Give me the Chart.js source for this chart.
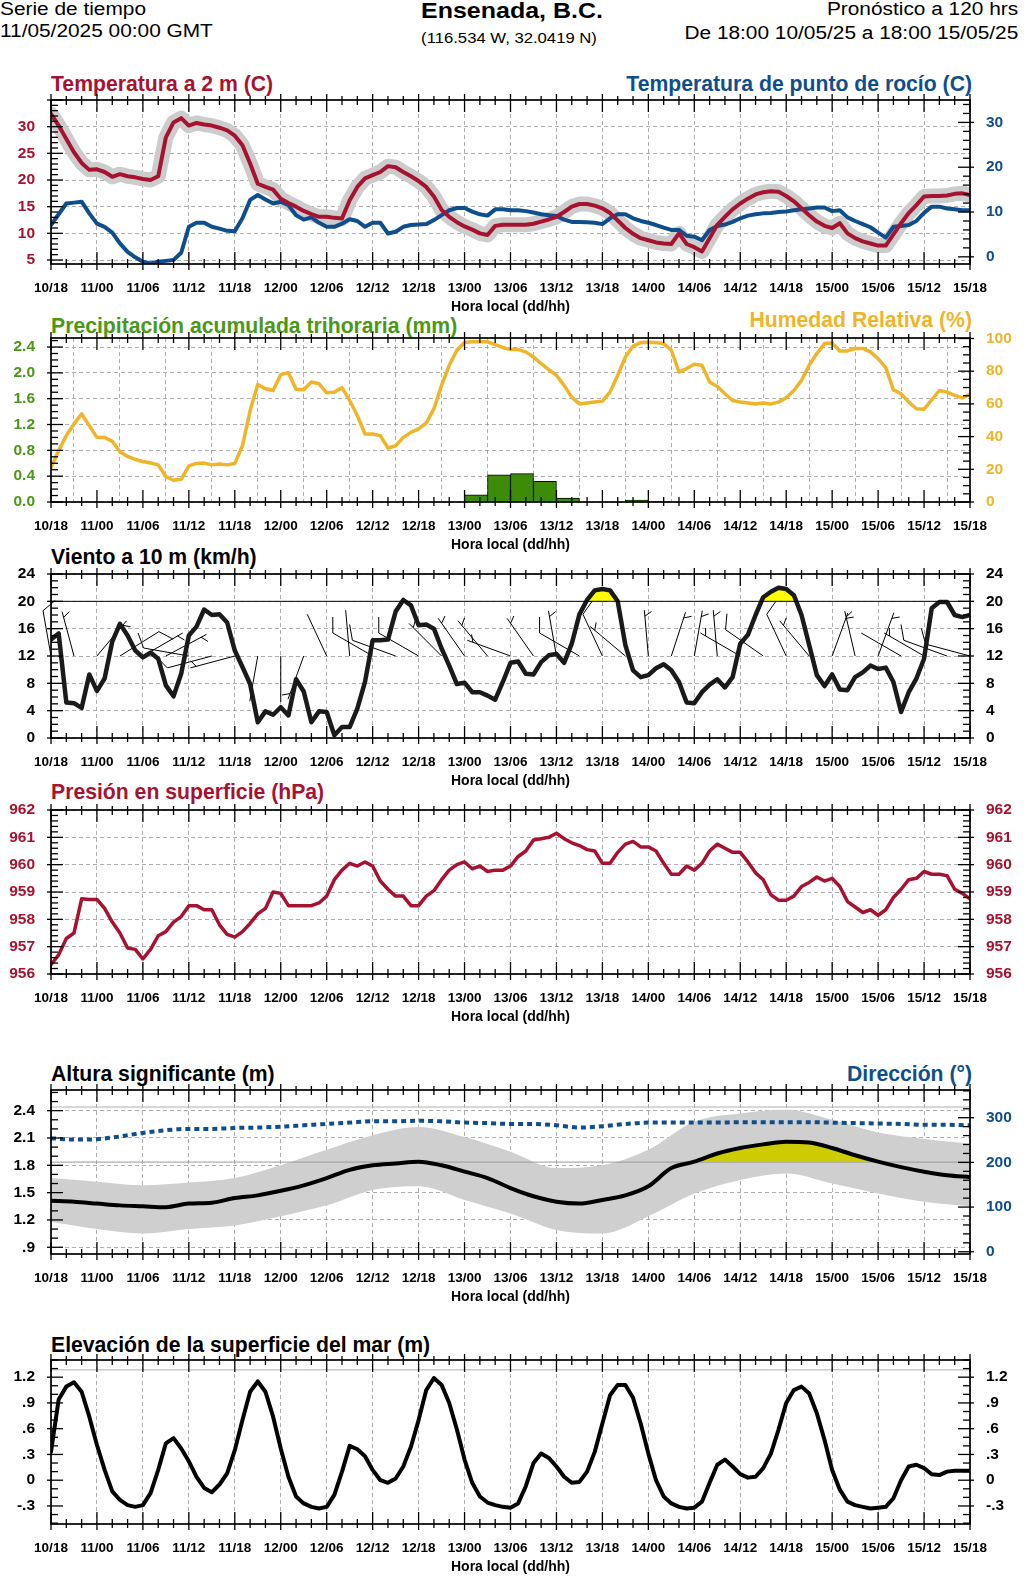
<!DOCTYPE html>
<html>
<head>
<meta charset="utf-8">
<script src="https://cdn.jsdelivr.net/npm/chart.js@4.4.1/dist/chart.umd.min.js"></script>
<style>
body{margin:0;background:#fff;width:1024px;height:1576px;position:relative;overflow:hidden;font-family:"Liberation Sans",Arial,Helvetica,sans-serif}
.t{position:absolute;white-space:nowrap;line-height:1}
.pt{position:absolute;white-space:nowrap;line-height:1;font-size:21.2px;font-weight:bold}
</style>
</head>
<body>
<div class="t" style="left:0;top:0.2px;font-size:18px;transform:scaleX(1.158);transform-origin:0 0">Serie de tiempo</div>
<div class="t" style="left:0;top:22.2px;font-size:18px;transform:scaleX(1.158);transform-origin:0 0">11/05/2025 00:00 GMT</div>
<div class="t" style="left:512px;top:0px;font-size:22px;font-weight:bold;transform:translateX(-50%) scaleX(1.136)">Ensenada, B.C.</div>
<div class="t" style="left:509px;top:30.5px;font-size:14.8px;transform:translateX(-50%) scaleX(1.127)">(116.534 W, 32.0419 N)</div>
<div class="t" style="right:6px;top:0.2px;font-size:18px;transform:scaleX(1.158);transform-origin:100% 0">Pronóstico a 120 hrs</div>
<div class="t" style="right:6px;top:24.2px;font-size:18px;transform:scaleX(1.158);transform-origin:100% 0">De 18:00 10/05/25 a 18:00 15/05/25</div>

<div class="pt" style="left:51px;top:73.4px;color:#a6122f">Temperatura a 2 m (C)</div>
<div class="pt" style="right:52px;top:73.4px;color:#0f4e8c">Temperatura de punto de rocío (C)</div>
<div class="pt" style="left:51px;top:315px;color:#4a9815">Precipitación acumulada trihoraria (mm)</div>
<div class="pt" style="right:52px;top:309px;color:#f0b429">Humedad Relativa (%)</div>
<div class="pt" style="left:51px;top:545.5px;color:#000">Viento a 10 m (km/h)</div>
<div class="pt" style="left:51px;top:780.5px;color:#a6122f">Presión en superficie (hPa)</div>
<div class="pt" style="left:51px;top:1063.4px;color:#000">Altura significante (m)</div>
<div class="pt" style="right:52px;top:1063.4px;color:#0f4e8c">Dirección (°)</div>
<div class="pt" style="left:51px;top:1334px;color:#000">Elevación de la superficie del mar (m)</div>

<script>
// ---- datos ----
const tickLabels = ['10/18','11/00','11/06','11/12','11/18','12/00','12/06','12/12','12/18','13/00','13/06',
  '13/12','13/18','14/00','14/06','14/12','14/18','15/00','15/06','15/12','15/18'];

// temperatura a 2 m (C), horaria
const tempC = [32.4,30.2,27.7,25.2,23.2,21.9,22.0,21.5,20.6,21.1,20.7,20.5,20.2,20.0,20.7,28.0,30.8,31.6,30.2,30.7,
  30.4,30.2,29.8,29.3,28.3,26.5,23.1,19.3,18.7,18.2,16.5,15.7,15.0,14.2,13.6,13.1,13.1,12.9,12.8,16.2,
  18.7,20.3,20.9,21.5,22.6,22.4,21.5,20.7,19.8,18.7,16.9,14.4,13.1,12.1,11.3,10.7,10.0,9.7,11.4,11.6,
  11.6,11.6,11.6,11.8,12.2,12.6,13.1,14.0,15.0,15.5,15.5,15.2,14.7,13.8,12.4,11.0,9.9,9.1,8.7,8.3,
  8.1,8.0,10.0,8.0,7.4,6.6,9.1,11.6,13.1,14.5,15.6,16.5,17.3,17.7,17.9,17.8,17.0,16.0,14.7,13.4,
  12.2,11.4,11.0,11.9,10.0,9.1,8.5,8.1,7.7,7.7,9.8,11.9,13.8,15.3,16.9,17.0,17.0,17.1,17.4,17.5,17.2];
// punto de rocio (C), eje derecho
const dewC = [7.1,9.5,11.9,12.1,12.3,9.7,7.4,6.7,5.4,3.0,1.1,-0.1,-1.1,-1.5,-1.1,-0.9,-0.7,0.9,6.7,7.6,
  7.6,6.7,6.3,5.8,5.7,8.6,12.7,13.8,12.8,11.9,12.3,11.5,9.3,8.3,8.8,7.6,6.7,6.7,7.4,8.4,
  8.0,6.7,7.6,7.6,5.2,5.6,6.7,7.1,7.2,7.3,8.2,9.3,10.4,10.9,10.9,10.1,9.5,9.2,10.6,10.6,
  10.4,10.4,10.2,9.9,9.5,9.3,9.1,8.3,7.8,7.8,7.7,7.6,7.3,8.6,9.5,9.5,8.6,8.0,7.6,7.1,
  6.5,6.0,6.0,4.7,4.5,3.7,6.0,6.9,7.2,7.8,8.6,9.2,9.5,9.7,9.8,10.0,10.1,10.4,10.6,10.8,
  11.0,11.0,10.2,10.4,8.8,8.0,7.3,6.6,5.4,4.3,6.7,6.9,7.1,8.0,9.8,11.2,11.2,10.8,10.6,10.4,10.4];
// humedad relativa (%)
const rhPct = [21.1,31.4,40.6,47.7,53.9,46.7,39.5,39.5,37.1,30.7,27.9,26.0,24.8,23.8,22.7,15.6,13.3,13.9,22.1,23.6,
  23.8,22.7,23.2,22.7,23.6,34.4,55.9,71.9,69.3,68.2,77.9,79.1,68.9,68.6,73.4,72.3,66.8,67.2,69.9,62.1,
  52.9,41.6,41.6,40.6,33.0,34.4,39.5,42.6,44.7,48.4,57.0,71.3,83.6,92.8,97.5,98.0,98.0,98.0,96.3,94.5,
  93.2,93.2,91.8,88.7,84.6,80.9,77.5,71.3,64.1,60.0,60.5,61.1,61.7,67.2,77.5,88.7,95.3,97.5,97.7,97.5,
  96.9,92.8,79.5,81.6,84.2,83.6,73.4,70.7,66.2,62.1,61.1,60.5,60.0,60.5,60.0,61.1,63.7,68.2,74.4,83.6,
  90.8,96.9,97.3,92.4,92.4,93.9,93.9,91.8,87.7,82.2,68.6,66.2,61.1,57.0,56.8,62.5,68.2,67.2,65.2,63.7,65.8];
// precipitacion trihoraria (mm), 40 intervalos de 3 h
const precipMm = [0,0,0,0,0,0,0,0,0,0, 0,0,0,0,0,0,0,0,0.11,0.42,
  0.44,0.32,0.06,0,0,0.03,0.005,0,0,0, 0,0,0,0,0,0,0,0,0,0];
// viento a 10 m (km/h)
const windKmh = [14.4,15.3,5.2,5.1,4.4,9.3,6.9,8.7,14.1,16.7,15.0,12.8,11.8,12.5,11.6,7.7,6.1,9.4,15.0,16.3,
  18.8,18.0,18.1,16.9,12.8,10.4,7.9,2.3,3.9,3.4,4.5,3.3,8.6,6.8,2.3,3.9,3.8,0.4,1.6,1.6,
  4.3,8.2,14.3,14.3,14.4,18.5,20.2,19.4,16.5,16.6,16.0,13.1,10.6,7.9,8.1,6.7,6.7,6.2,5.6,8.2,
  11.0,11.2,9.4,9.3,11.1,12.1,12.3,11.0,13.8,18.1,20.2,21.6,21.8,21.6,20.0,13.6,9.9,8.9,9.2,10.2,
  10.8,9.9,8.2,5.2,5.1,6.7,7.8,8.6,7.4,8.9,13.8,15.1,18.0,20.6,21.4,22.0,21.8,20.9,18.0,13.6,
  9.2,7.6,9.3,7.1,7.0,8.9,9.6,10.6,10.1,10.3,8.2,3.8,6.7,8.7,11.6,19.0,19.9,19.9,18.0,17.7,18.0];
// direccion del viento (grados de donde sopla), cada 3 h
const windDir = [350,345,40,58,60,62,280,255,255,190,180,200,335,355,300,290,300,315,325,320,
  290,325,350,300,335,310,355,18,10,355,300,305,335,320,20,347,20,300,300,290,285];
// presion en superficie (hPa)
const presHpa = [956.34,956.7,957.3,957.5,958.75,958.73,958.73,958.4,957.9,957.5,956.95,956.9,956.55,956.9,957.4,957.55,957.9,958.1,958.5,958.5,
  958.35,958.35,957.8,957.45,957.35,957.55,957.85,958.2,958.4,959.0,958.95,958.5,958.5,958.5,958.5,958.6,958.85,959.45,959.8,960.05,
  959.95,960.1,959.95,959.4,959.1,958.85,958.85,958.5,958.5,958.85,959.05,959.45,959.8,960.0,960.1,959.85,959.95,959.75,959.8,959.8,
  959.95,960.3,960.5,960.9,960.95,961.0,961.15,960.95,960.8,960.7,960.55,960.5,960.05,960.05,960.45,960.75,960.85,960.65,960.65,960.5,
  960.05,959.65,959.65,959.95,959.8,960.05,960.5,960.75,960.6,960.45,960.45,960.1,959.7,959.45,958.9,958.7,958.7,958.85,959.2,959.35,
  959.55,959.4,959.5,959.2,958.65,958.45,958.25,958.35,958.15,958.35,958.8,959.1,959.45,959.5,959.75,959.65,959.65,959.6,959.1,958.95,958.75];
// altura significante de ola (m) y direccion (grados), cada 3 h
const waveHs = [1.41,1.40,1.38,1.36,1.35,1.34,1.38,1.39,1.44,1.47,1.52,1.58,1.66,1.75,1.80,1.82,1.84,1.80,1.73,1.66,
  1.55,1.46,1.40,1.38,1.42,1.47,1.57,1.77,1.84,1.93,1.99,2.03,2.06,2.05,1.99,1.91,1.84,1.78,1.73,1.69,1.67];
const waveDir = [254,251,252,258,266,272,275,275,277,278,280,283,286,289,292,292,293,292,289,288,
  286,286,283,278,281,286,289,289,289,289,290,290,290,290,289,288,287,286,284,284,283];
// banda del ensamble de altura (m), cada 6 h
const waveHi = [1.66,1.62,1.58,1.61,1.66,1.80,1.97,2.13,2.22,2.11,1.95,1.77,1.80,1.97,2.28,2.37,2.41,2.30,2.16,2.09,2.04];
const waveLo = [1.18,1.10,1.05,1.10,1.14,1.24,1.36,1.53,1.57,1.42,1.27,1.09,1.05,1.24,1.49,1.64,1.71,1.60,1.49,1.40,1.35];
// elevacion del mar (m), horaria
const seaM = [0.33,0.94,1.09,1.14,1.03,0.74,0.41,0.12,-0.13,-0.23,-0.29,-0.31,-0.29,-0.15,0.12,0.43,0.49,0.37,0.22,0.04,
  -0.09,-0.14,-0.05,0.08,0.35,0.70,1.03,1.15,1.03,0.74,0.37,0.04,-0.19,-0.27,-0.31,-0.33,-0.31,-0.17,0.10,0.40,
  0.36,0.28,0.12,0.00,-0.03,0.02,0.16,0.39,0.70,1.05,1.19,1.11,0.90,0.59,0.24,-0.03,-0.19,-0.26,-0.29,-0.31,
  -0.32,-0.27,-0.07,0.20,0.31,0.26,0.16,0.04,-0.03,-0.02,0.10,0.33,0.66,0.99,1.11,1.11,0.96,0.66,0.31,0.00,
  -0.19,-0.27,-0.31,-0.33,-0.32,-0.25,-0.03,0.18,0.24,0.16,0.07,0.03,0.04,0.14,0.31,0.59,0.90,1.05,1.09,1.01,
  0.78,0.47,0.12,-0.11,-0.25,-0.29,-0.31,-0.33,-0.32,-0.31,-0.21,0.00,0.16,0.18,0.14,0.07,0.06,0.10,0.11,0.11,0.11];

// umbrales
const WIND_LIMIT = 20;
const BARB_LEVEL = 12;
const WAVE_LIMIT = 1.835;
const WAVE_TOP = 2.44;
const SEA_TOP = 1.285;

// ---- layout ----
const FONT = '"Liberation Sans", Arial, Helvetica, sans-serif';
const RED = '#a6122f', BLUE = '#0f4e8c', GREEN = '#4a9815', BAR = '#3c8c0a', ORANGE = '#f0b429';
const FRAME_L = 51, FRAME_R = 970, PLOT_H = 164, PAD_T = 6, XAX_H = 52;
Chart.defaults.font.family = FONT;

const hours1 = [], hours3 = [], hours6 = [], barX = [];
for (let h = 0; h <= 120; h++) {
  hours1.push(h);
  if (h % 3 === 0) hours3.push(h);
  if (h % 6 === 0) hours6.push(h);
}
for (let i = 0; i < precipMm.length; i++) barX.push(i * 3 + 1.5);
const tickHours = tickLabels.map((_, i) => i * 6);

function xy(xs, ys) { return xs.map((x, i) => ({ x: x, y: ys[i] })); }
function flat(v) { return [{ x: 0, y: v }, { x: 120, y: v }]; }
function dotFmt(v) {
  if (Math.abs(v) < 1e-9) return '0';
  return v.toFixed(1).replace(/^(-?)0\./, '$1.');
}

function xAxis() {
  return {
    type: 'linear', min: 0, max: 120, offset: false,
    afterBuildTicks: s => { s.ticks = tickHours.map(v => ({ value: v })); },
    afterFit: s => { s.height = XAX_H; },
    ticks: { autoSkip: false, maxRotation: 0, padding: 16, color: '#000',
      font: { size: 13.5, weight: 'bold' },
      callback: (v, i) => tickLabels[i] },
    grid: { color: '#9a9a9a', lineWidth: 0.8, drawTicks: false },
    border: { display: false, dash: [4, 3] },
    title: { display: true, text: 'Hora local (dd/hh)', color: '#000',
      font: { size: 14, weight: 'bold' }, padding: { top: 0, bottom: 0 } }
  };
}

function yAxis(pos, min, max, ticks, fmt, color, showGrid) {
  return {
    type: 'linear', position: pos, min: min, max: max,
    afterBuildTicks: s => { s.ticks = ticks.map(v => ({ value: v })); },
    afterFit: s => {
      s.width = pos === 'left' ? FRAME_L : 1024 - FRAME_R;
      s.paddingTop = 0; s.paddingBottom = 0;
    },
    ticks: { padding: 16, color: color, font: { size: 15.5, weight: 'bold' }, callback: v => fmt(v) },
    grid: { display: showGrid, color: '#9a9a9a', lineWidth: 0.8, drawTicks: false },
    border: { display: false, dash: [4, 3] }
  };
}

// marco con marcas hacia adentro (estilo NCL)
const framePlugin = {
  id: 'frame',
  afterDatasetsDraw(chart, args, opts) {
    const { ctx, chartArea: a, scales } = chart;
    ctx.save();
    ctx.strokeStyle = '#000';
    function seg(x1, y1, x2, y2) { ctx.beginPath(); ctx.moveTo(x1, y1); ctx.lineTo(x2, y2); ctx.stroke(); }
    ctx.lineWidth = 1.3;
    for (let h = 0; h <= 120; h += 2) {
      const x = scales.x.getPixelForValue(h);
      const major = h % 6 === 0;
      const inn = major ? 12 : 5, out = major ? 6 : 4;
      seg(x, a.bottom + out, x, a.bottom - inn);
      seg(x, a.top - out, x, a.top + inn);
    }
    function side(sc, o, x0, dir) {
      if (!o) return;
      const k0 = Math.ceil(sc.min / o.minor - 1e-6);
      for (let k = k0; k * o.minor <= sc.max + 1e-6; k++) {
        const v = k * o.minor;
        const r = v / o.major;
        const major = Math.abs(r - Math.round(r)) < 1e-6;
        const y = sc.getPixelForValue(v);
        seg(x0 - dir * (major ? 4 : 0), y, x0 + dir * (major ? 12 : 7), y);
      }
    }
    side(scales.y, opts.left, a.left, 1);
    side(scales.y2 || scales.y, opts.right || opts.left, a.right, -1);
    ctx.lineWidth = 1.7;
    ctx.strokeRect(a.left, a.top, a.right - a.left, a.bottom - a.top);
    ctx.restore();
  }
};

// barbas de viento sobre el nivel BARB_LEVEL
const barbPlugin = {
  id: 'barbs',
  beforeDatasetsDraw(chart) {
    const { ctx, scales: { x, y } } = chart;
    const STAFF = 46, FULL = 16, GAP = 6;
    ctx.save();
    ctx.strokeStyle = '#000';
    ctx.lineWidth = 1;
    hours3.forEach((h, i) => {
      const bx = x.getPixelForValue(h), by = y.getPixelForValue(BARB_LEVEL);
      const a = windDir[i] * Math.PI / 180;
      const ux = Math.sin(a), uy = -Math.cos(a);
      const fa = a + Math.PI / 3;
      const fx = Math.sin(fa), fy = -Math.cos(fa);
      ctx.beginPath();
      ctx.moveTo(bx, by);
      ctx.lineTo(bx + ux * STAFF, by + uy * STAFF);
      let kt = Math.round(windKmh[h] / 1.852 / 5) * 5;
      let d = STAFF;
      if (kt === 5) d -= GAP;
      while (kt >= 5) {
        const len = kt >= 10 ? FULL : FULL / 2;
        const px = bx + ux * d, py = by + uy * d;
        ctx.moveTo(px, py);
        ctx.lineTo(px + fx * len, py + fy * len);
        kt -= kt >= 10 ? 10 : 5;
        d -= GAP;
      }
      ctx.stroke();
    });
    ctx.restore();
  }
};

function makePanel(frameTop, datasets, scales, frameOpts, extra) {
  const cv = document.createElement('canvas');
  const H = PAD_T + PLOT_H + XAX_H;
  cv.width = 1024; cv.height = H;
  cv.style.cssText = 'position:absolute;left:0;top:' + (frameTop - PAD_T) + 'px;width:1024px;height:' + H + 'px';
  document.body.appendChild(cv);
  return new Chart(cv, {
    type: 'line',
    data: { datasets: datasets },
    options: {
      responsive: false, animation: false, events: [],
      layout: { padding: { top: PAD_T, left: 0, right: 0, bottom: 0 } },
      elements: { point: { radius: 0 }, line: { tension: 0, borderJoinStyle: 'round', borderCapStyle: 'round' } },
      plugins: { legend: { display: false }, tooltip: { enabled: false }, frame: frameOpts },
      scales: Object.assign({ x: xAxis() }, scales)
    },
    plugins: [framePlugin].concat(extra || [])
  });
}

// 1. temperatura
makePanel(100, [
  { data: xy(hours1, tempC), borderColor: '#cccccc', borderWidth: 15, yAxisID: 'y', order: 3 },
  { data: xy(hours1, dewC), borderColor: BLUE, borderWidth: 4, yAxisID: 'y2', order: 2 },
  { data: xy(hours1, tempC), borderColor: RED, borderWidth: 4, yAxisID: 'y', order: 1 }
], {
  y: yAxis('left', 4.25, 35, [5, 10, 15, 20, 25, 30], v => String(v), RED, true),
  y2: yAxis('right', -1.6, 35, [0, 10, 20, 30], v => String(v), BLUE, false)
}, { left: { major: 5, minor: 1 }, right: { major: 10, minor: 2 } });

// 2. precipitacion y humedad
makePanel(338, [
  { type: 'bar', data: xy(barX, precipMm), backgroundColor: BAR, borderColor: '#000', borderWidth: 1,
    barPercentage: 1, categoryPercentage: 1, yAxisID: 'y', order: 2 },
  { data: xy(hours1, rhPct), borderColor: ORANGE, borderWidth: 3.5, yAxisID: 'y2', order: 1 }
], {
  y: yAxis('left', 0, 2.54, [0, 0.4, 0.8, 1.2, 1.6, 2.0, 2.4], v => v.toFixed(1), GREEN, true),
  y2: yAxis('right', 0, 100.3, [0, 20, 40, 60, 80, 100], v => String(v), ORANGE, false)
}, { left: { major: 0.4, minor: 0.1 }, right: { major: 20, minor: 5 } });

// 3. viento
makePanel(574, [
  { data: flat(WIND_LIMIT), borderColor: '#000', borderWidth: 1, yAxisID: 'y', order: 0 },
  { data: xy(hours1, windKmh), borderColor: '#1a1a1a', borderWidth: 4.5, yAxisID: 'y', order: 1,
    fill: { target: { value: WIND_LIMIT }, above: '#ffff00', below: 'rgba(0,0,0,0)' } }
], {
  y: yAxis('left', 0, 24, [0, 4, 8, 12, 16, 20, 24], v => String(v), '#000', true),
  y2: yAxis('right', 0, 24, [0, 4, 8, 12, 16, 20, 24], v => String(v), '#000', false)
}, { left: { major: 4, minor: 1 }, right: { major: 4, minor: 1 } }, [barbPlugin]);

// 4. presion
makePanel(810, [
  { data: xy(hours1, presHpa), borderColor: RED, borderWidth: 3.5, yAxisID: 'y' }
], {
  y: yAxis('left', 956, 962, [956, 957, 958, 959, 960, 961, 962], v => String(v), RED, true),
  y2: yAxis('right', 956, 962, [956, 957, 958, 959, 960, 961, 962], v => String(v), RED, false)
}, { left: { major: 1, minor: 0.2 }, right: { major: 1, minor: 0.2 } });

// 5. oleaje
makePanel(1090, [
  { data: xy(hours6, waveHi), borderWidth: 0, borderColor: 'rgba(0,0,0,0)', backgroundColor: '#cfcfcf',
    fill: '+1', cubicInterpolationMode: 'monotone', yAxisID: 'y', order: 6 },
  { data: xy(hours6, waveLo), borderWidth: 0, borderColor: 'rgba(0,0,0,0)', fill: false,
    cubicInterpolationMode: 'monotone', yAxisID: 'y', order: 5 },
  { data: flat(WAVE_LIMIT), borderColor: '#9a9a9a', borderWidth: 1, yAxisID: 'y', order: 4 },
  { data: flat(WAVE_TOP), borderColor: '#b0b0b0', borderWidth: 1, yAxisID: 'y', order: 4 },
  { data: xy(hours3, waveHs), borderColor: '#000', borderWidth: 4, cubicInterpolationMode: 'monotone',
    fill: { target: { value: WAVE_LIMIT }, above: '#cccc00', below: 'rgba(0,0,0,0)' }, yAxisID: 'y', order: 2 },
  { data: xy(hours3, waveDir), borderColor: BLUE, borderWidth: 4, borderDash: [5, 4], borderCapStyle: 'butt',
    cubicInterpolationMode: 'monotone', yAxisID: 'y2', order: 1 }
], {
  y: yAxis('left', 0.826, 2.627, [0.9, 1.2, 1.5, 1.8, 2.1, 2.4], dotFmt, '#000', true),
  y2: yAxis('right', -5, 362, [0, 100, 200, 300], v => String(v), BLUE, false)
}, { left: { major: 0.3, minor: 0.1 }, right: { major: 100, minor: 20 } });

// 6. elevacion del mar
makePanel(1360, [
  { data: flat(SEA_TOP), borderColor: '#b0b0b0', borderWidth: 1, yAxisID: 'y', order: 2 },
  { data: xy(hours1, seaM), borderColor: '#000', borderWidth: 4, yAxisID: 'y', order: 1 }
], {
  y: yAxis('left', -0.51, 1.40, [-0.3, 0, 0.3, 0.6, 0.9, 1.2], dotFmt, '#000', false),
  y2: yAxis('right', -0.51, 1.40, [-0.3, 0, 0.3, 0.6, 0.9, 1.2], dotFmt, '#000', false)
}, { left: { major: 0.3, minor: 0.1 }, right: { major: 0.3, minor: 0.1 } });
</script>
</body>
</html>
